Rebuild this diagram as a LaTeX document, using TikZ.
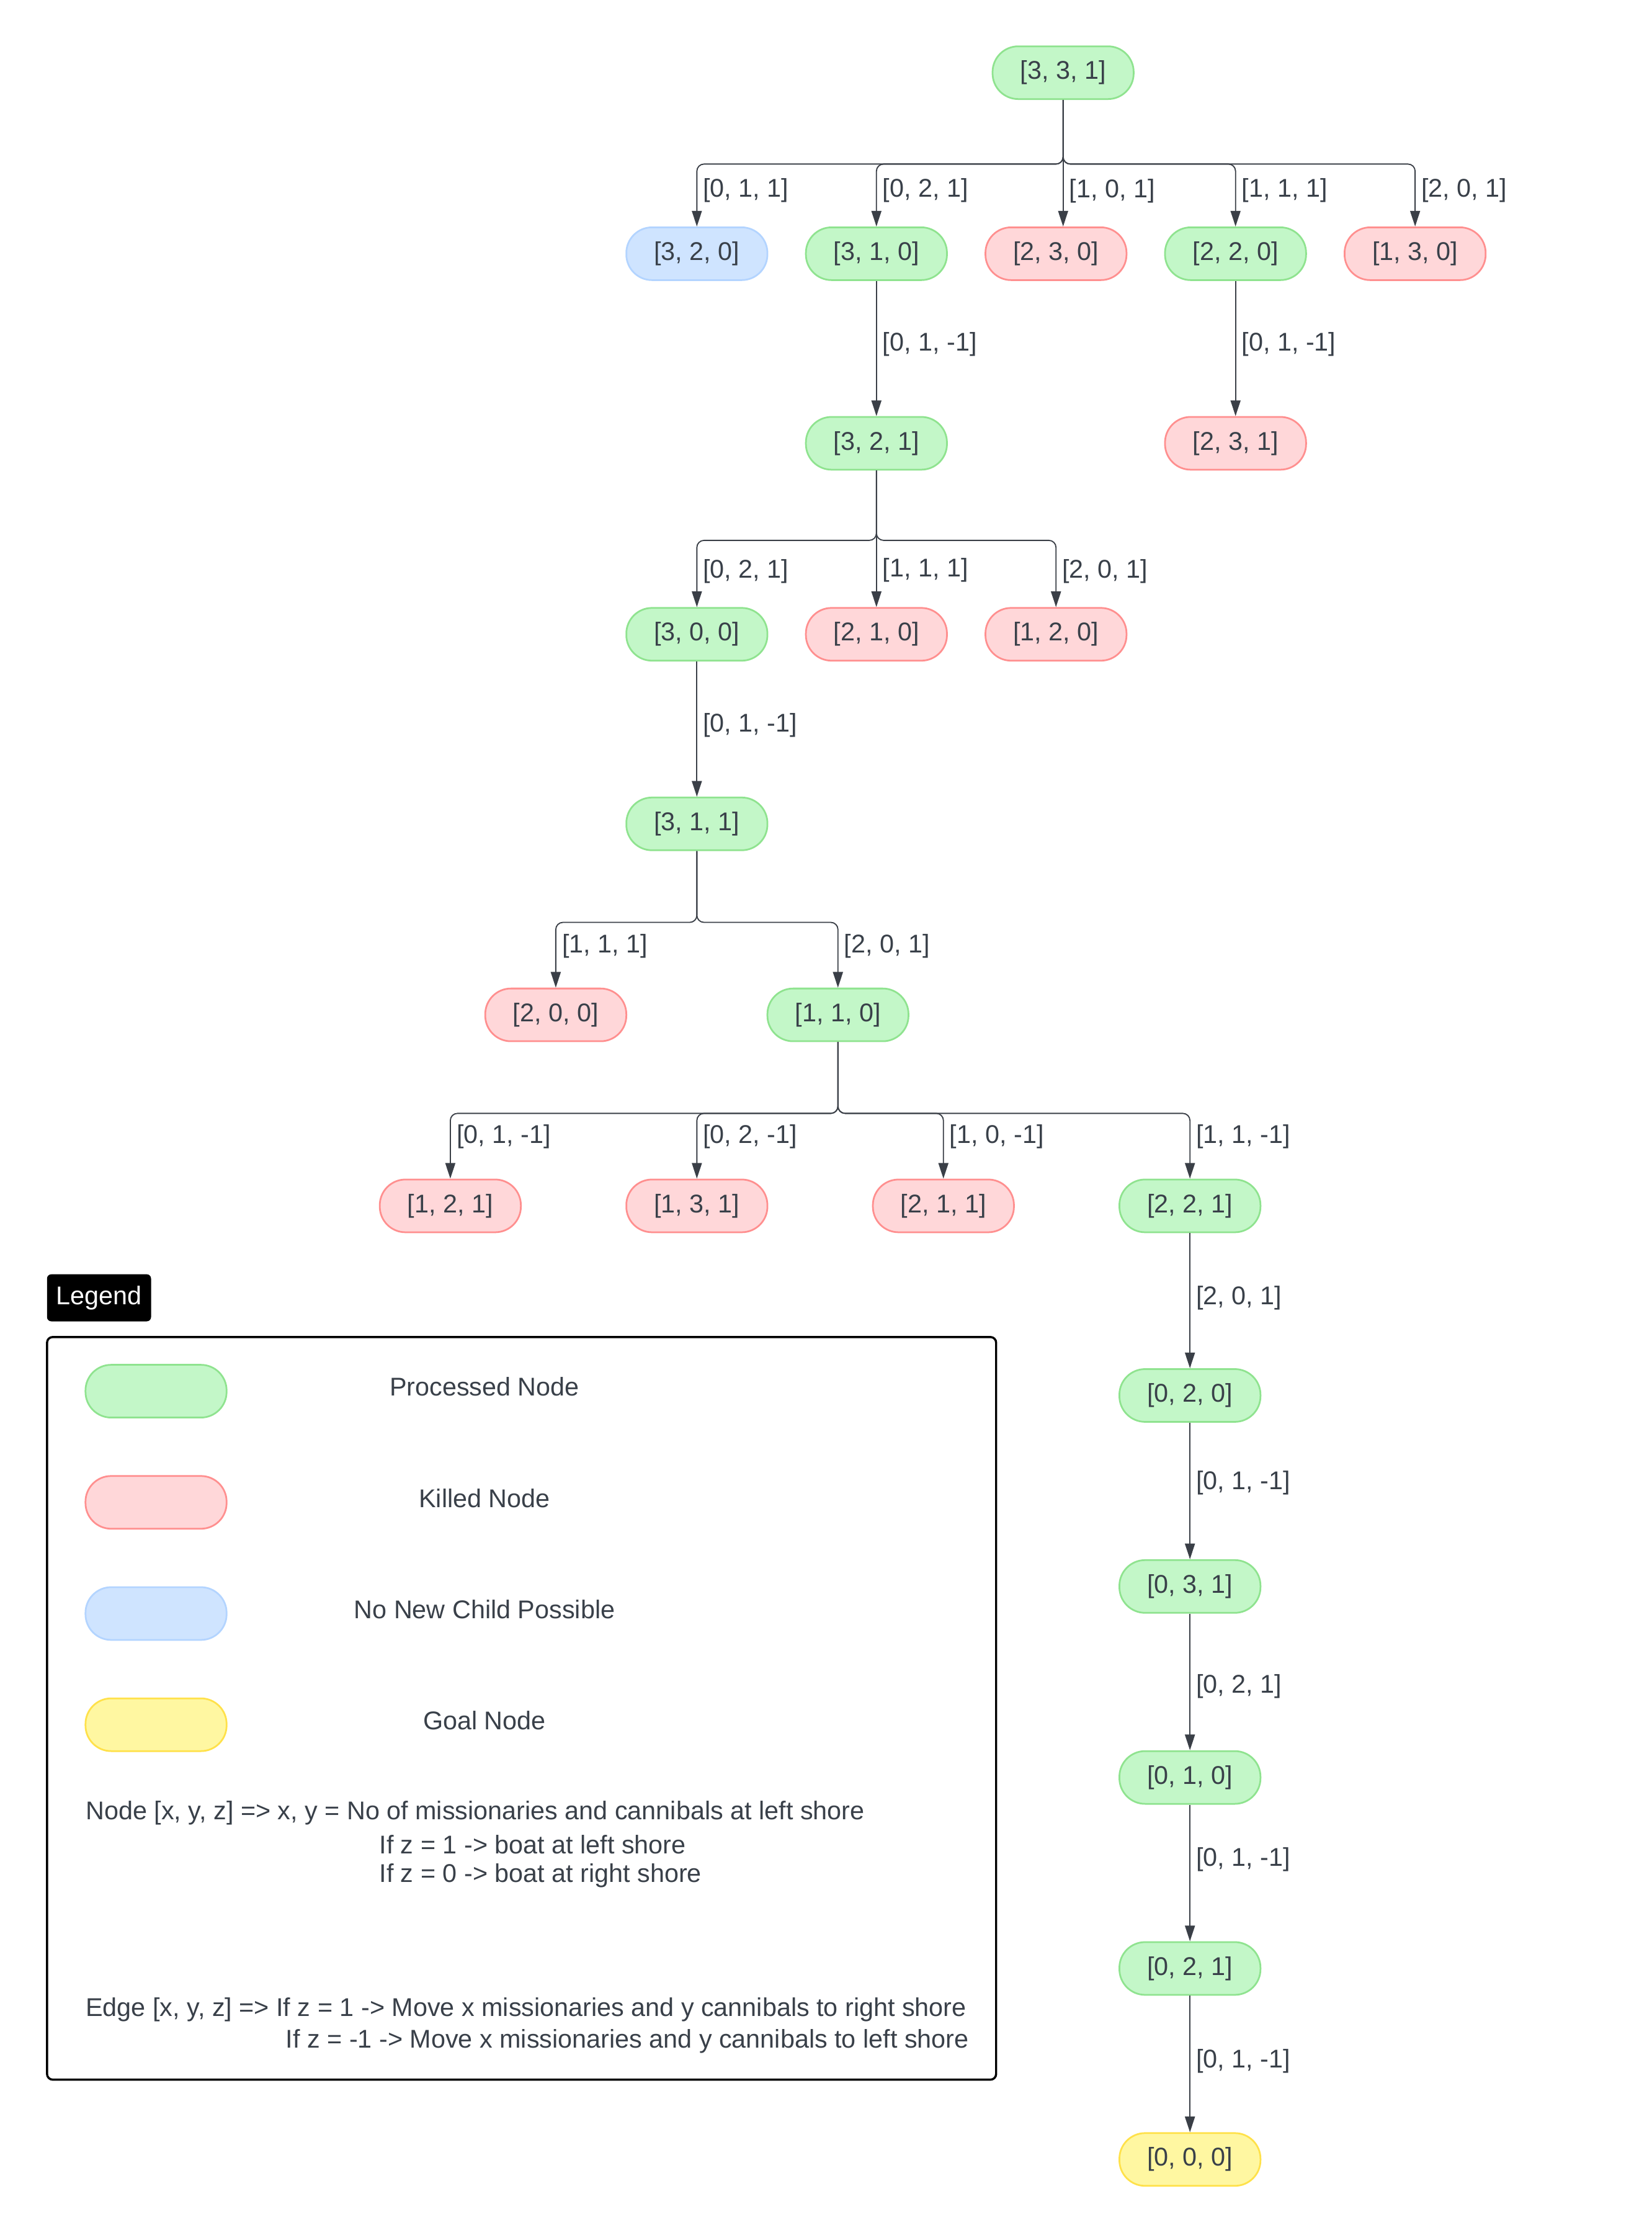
\documentclass[tikz,border=0pt]{standalone}
\usepackage{fontspec}
\setmainfont{Liberation Sans}
\usetikzlibrary{arrows.meta}

\definecolor{txtgray}{HTML}{394049}
\definecolor{linegray}{HTML}{3A3F47}
\definecolor{donefill}{HTML}{C3F7C8}
\definecolor{donedraw}{HTML}{8FE38F}
\definecolor{killfill}{HTML}{FFD7D9}
\definecolor{killdraw}{HTML}{FF8F8F}
\definecolor{leaffill}{HTML}{CFE4FF}
\definecolor{leafdraw}{HTML}{B3D4FF}
\definecolor{goalfill}{HTML}{FFF7A1}
\definecolor{goaldraw}{HTML}{FFE14A}

\tikzset{
  state/.style={draw, line width=1.2pt, rounded corners=18pt, minimum width=99pt, minimum height=37pt, inner sep=0pt, text=txtgray, font=\fontsize{18}{22}\selectfont},
  done/.style={state, fill=donefill, draw=donedraw},
  killed/.style={state, fill=killfill, draw=killdraw},
  leaf/.style={state, fill=leaffill, draw=leafdraw},
  goal/.style={state, fill=goalfill, draw=goaldraw},
  move/.style={draw=linegray, line width=0.8pt, rounded corners=5pt, -{Triangle[length=11pt,width=7pt]}},
  lbl/.style={anchor=west, xshift=4pt, inner sep=0pt, text=txtgray, font=\fontsize{18}{22}\selectfont},
  txt/.style={inner sep=0pt, text=txtgray, font=\fontsize{18}{22}\selectfont}
}

\begin{document}
\begin{tikzpicture}[x=1pt,y=-1pt]
\useasboundingbox (0,0) rectangle (1159,1568);

% search tree
\node[done] (s331) at (746,51) {[3, 3, 1]};
\node[leaf] (s320) at (489,178) {[3, 2, 0]};
\node[done] (s310) at (615,178) {[3, 1, 0]};
\node[killed] (s230) at (741,178) {[2, 3, 0]};
\node[done] (s220) at (867,178) {[2, 2, 0]};
\node[killed] (s130) at (993,178) {[1, 3, 0]};
\node[done] (s321) at (615,311) {[3, 2, 1]};
\node[killed] (s231) at (867,311) {[2, 3, 1]};
\node[done] (s300) at (489,445) {[3, 0, 0]};
\node[killed] (s210) at (615,445) {[2, 1, 0]};
\node[killed] (s120) at (741,445) {[1, 2, 0]};
\node[done] (s311) at (489,578) {[3, 1, 1]};
\node[killed] (s200) at (390,712) {[2, 0, 0]};
\node[done] (s110) at (588,712) {[1, 1, 0]};
\node[killed] (s121) at (316,846) {[1, 2, 1]};
\node[killed] (s131) at (489,846) {[1, 3, 1]};
\node[killed] (s211) at (662,846) {[2, 1, 1]};
\node[done] (s221) at (835,846) {[2, 2, 1]};
\node[done] (s020) at (835,979) {[0, 2, 0]};
\node[done] (s031) at (835,1113) {[0, 3, 1]};
\node[done] (s010) at (835,1247) {[0, 1, 0]};
\node[done] (s021) at (835,1381) {[0, 2, 1]};
\node[goal] (s000) at (835,1515) {[0, 0, 0]};

% moves
\draw[move] (s331.south) -- ++(0,45) -| node[lbl,pos=0.71] {[0, 1, 1]} (s320.north);
\draw[move] (s331.south) -- ++(0,45) -| node[lbl,pos=0.71] {[0, 2, 1]} (s310.north);
\draw[move] (s331.south) -- node[lbl,pos=0.72] {[1, 0, 1]} (s331.south |- s230.north);
\draw[move] (s331.south) -- ++(0,45) -| node[lbl,pos=0.71] {[1, 1, 1]} (s220.north);
\draw[move] (s331.south) -- ++(0,45) -| node[lbl,pos=0.71] {[2, 0, 1]} (s130.north);
\draw[move] (s310) -- node[lbl,pos=0.47] {[0, 1, -1]} (s321);
\draw[move] (s220) -- node[lbl,pos=0.47] {[0, 1, -1]} (s231);
\draw[move] (s321.south) -- ++(0,49) -| node[lbl,pos=0.73] {[0, 2, 1]} (s300.north);
\draw[move] (s321) -- node[lbl,pos=0.73] {[1, 1, 1]} (s210);
\draw[move] (s321.south) -- ++(0,49) -| node[lbl,pos=0.73] {[2, 0, 1]} (s120.north);
\draw[move] (s300) -- node[lbl,pos=0.47] {[0, 1, -1]} (s311);
\draw[move] (s311.south) -- ++(0,50) -| node[lbl,pos=0.68] {[1, 1, 1]} (s200.north);
\draw[move] (s311.south) -- ++(0,50) -| node[lbl,pos=0.68] {[2, 0, 1]} (s110.north);
\draw[move] (s110.south) -- ++(0,50) -| node[lbl,pos=0.68] {[0, 1, -1]} (s121.north);
\draw[move] (s110.south) -- ++(0,50) -| node[lbl,pos=0.68] {[0, 2, -1]} (s131.north);
\draw[move] (s110.south) -- ++(0,50) -| node[lbl,pos=0.68] {[1, 0, -1]} (s211.north);
\draw[move] (s110.south) -- ++(0,50) -| node[lbl,pos=0.68] {[1, 1, -1]} (s221.north);
\draw[move] (s221) -- node[lbl,pos=0.48] {[2, 0, 1]} (s020);
\draw[move] (s020) -- node[lbl,pos=0.44] {[0, 1, -1]} (s031);
\draw[move] (s031) -- node[lbl,pos=0.53] {[0, 2, 1]} (s010);
\draw[move] (s010) -- node[lbl,pos=0.40] {[0, 1, -1]} (s021);
\draw[move] (s021) -- node[lbl,pos=0.48] {[0, 1, -1]} (s000);

% legend
\node[fill=black, rounded corners=3pt, minimum width=73pt, minimum height=33pt, inner sep=0pt, text=white, font=\fontsize{18}{22}\selectfont] (legtitle) at (69.5,910.5) {Legend};
\draw[line width=1.5pt, rounded corners=4pt] (33,938) rectangle (699,1459);

\node[done] (keydone) at (109.5,976) {};
\node[killed] (keykilled) at (109.5,1054) {};
\node[leaf] (keyleaf) at (109.5,1132) {};
\node[goal] (keygoal) at (109.5,1210) {};
\node[txt] (keydonetxt) at (340,973) {Processed Node};
\node[txt] (keykilledtxt) at (340,1051) {Killed Node};
\node[txt] (keyleaftxt) at (340,1129) {No New Child Possible};
\node[txt] (keygoaltxt) at (340,1207) {Goal Node};

\node[txt, anchor=west] (nodeline1) at (60,1272) {Node [x, y, z] => x, y = No of missionaries and cannibals at left shore};
\node[txt, anchor=west] (nodeline2) at (266,1294) {If z = 1 -> boat at left shore};
\node[txt, anchor=west] (nodeline3) at (266,1316) {If z = 0 -> boat at right shore};
\node[txt, anchor=west] (edgeline1) at (60,1410) {Edge [x, y, z] => If z = 1 -> Move x missionaries and y cannibals to right shore};
\node[txt, anchor=east] (edgeline2) at (680,1432) {If z = -1 -> Move x missionaries and y cannibals to left shore};
\end{tikzpicture}
\end{document}
